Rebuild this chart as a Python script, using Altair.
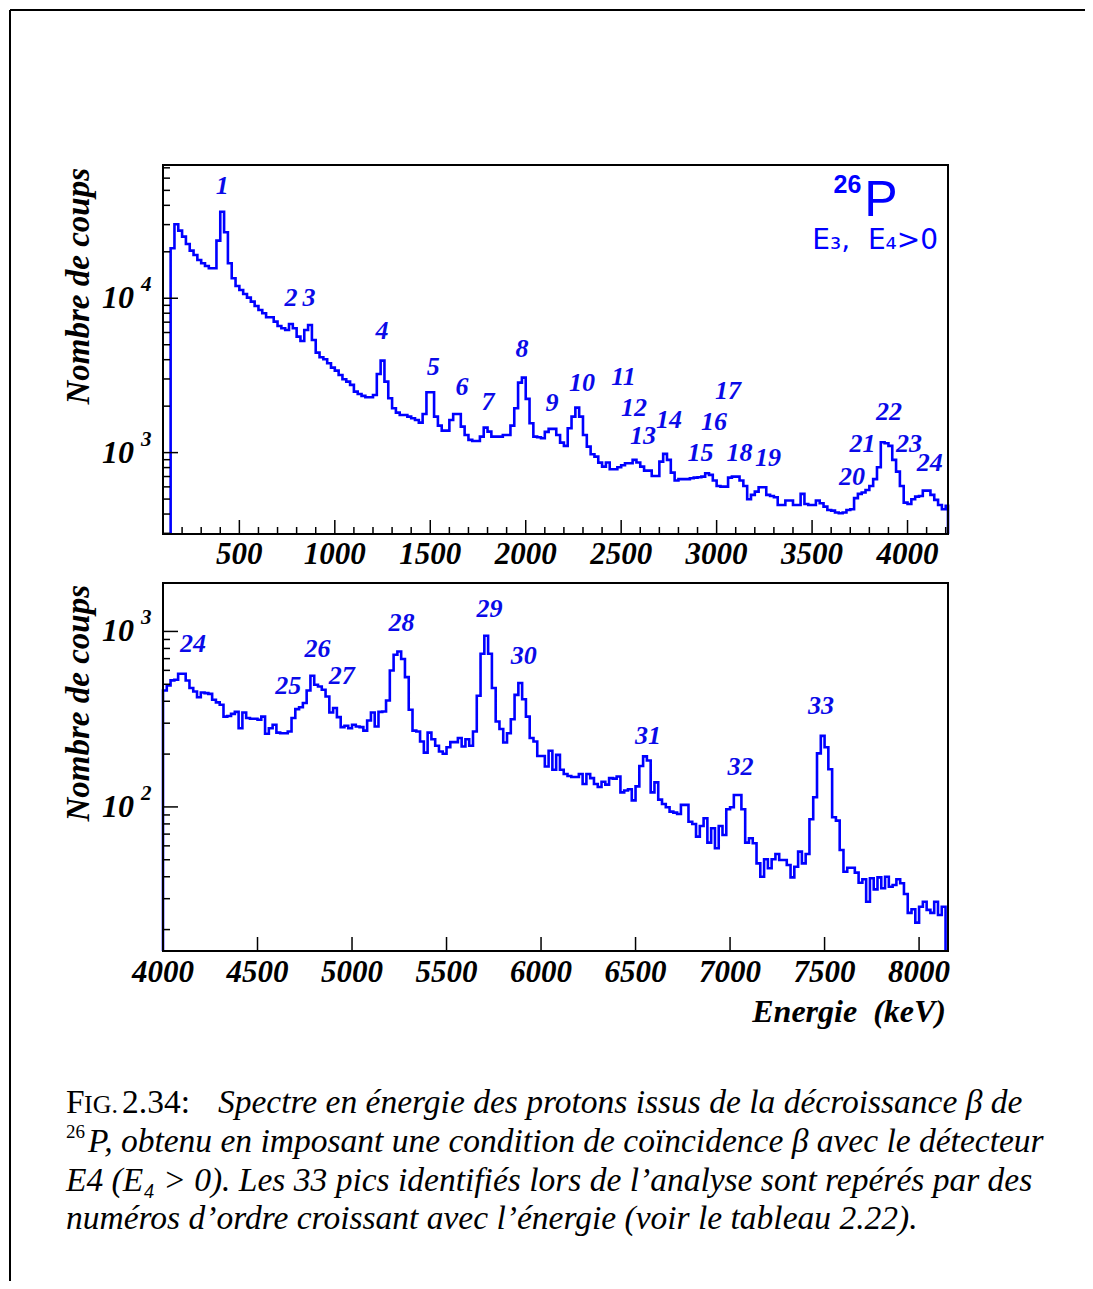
import altair as alt
import pandas as pd

# ---------------- data ----------------
BIN_KEV = 20
TOP_FIRST_BIN_KEV = 140
BOT_FIRST_BIN_KEV = 4000

# counts per 20 keV bin, upper panel (140 keV ... 4220 keV)
top_counts = [
    21080, 30160, 27410, 25060, 22470, 20340, 19070, 17700, 16850, 16190,
    15640, 15640, 23610, 36380, 26760, 16850, 13470, 12020, 11320, 10660,
    10090, 9506, 8916, 8399, 7995, 7530, 7530, 7056, 6615, 6393,
    6233, 6817, 6393, 5640, 5290, 6233, 6715, 5370, 4443, 4148,
    4026, 3793, 3552, 3397, 3186, 2988, 2883, 2745, 2484, 2400,
    2330, 2285, 2285, 2364, 3234, 3943, 2883, 2251, 1939, 1816,
    1754, 1754, 1710, 1670, 1628, 1564, 1780, 2461, 2461, 1710,
    1496, 1388, 1388, 1628, 1780, 1780, 1474, 1302, 1209, 1190,
    1190, 1270, 1452, 1368, 1270, 1270, 1270, 1302, 1302, 1496,
    1939, 2840, 3060, 2228, 1550, 1270, 1259, 1240, 1362, 1424,
    1424, 1302, 1161, 1105, 1439, 1710, 1956, 1710, 1302, 1094,
    976, 942, 861, 811, 862, 781, 781, 804, 829, 854,
    854, 897, 862, 811, 764, 764, 706, 706, 874, 981,
    897, 742, 659, 673, 673, 673, 683, 689, 693, 699,
    735, 717, 659, 608, 602, 602, 689, 699, 699, 659,
    608, 499, 532, 559, 597, 597, 532, 524, 514, 458,
    458, 489, 489, 458, 458, 540, 465, 458, 458, 489,
    470, 447, 425, 421, 409, 405, 409, 425, 430, 507,
    540, 551, 573, 608, 673, 804, 1168, 1151, 1105, 897,
    753, 608, 474, 465, 499, 519, 524, 567, 567, 532,
    494, 458, 430, 452,
]

# counts per 20 keV bin, lower panel (4000 keV ... 8140 keV)
bot_counts = [
    461, 492, 526, 530, 574, 574, 525, 476, 455, 422,
    449, 445, 441, 408, 394, 382, 327, 330, 339, 348,
    281, 345, 321, 318, 318, 314, 327, 261, 281, 294,
    265, 263, 263, 269, 321, 361, 370, 391, 461, 559,
    497, 486, 465, 426, 345, 366, 325, 285, 290, 281,
    294, 287, 285, 272, 311, 345, 287, 348, 350, 404,
    599, 737, 769, 696, 549, 358, 272, 269, 236, 204,
    265, 243, 223, 207, 201, 219, 234, 234, 247, 221,
    243, 223, 269, 430, 746, 945, 746, 476, 307, 278,
    233, 263, 316, 435, 508, 411, 327, 247, 236, 195,
    195, 170, 209, 163, 198, 163, 154, 150, 148, 148,
    154, 135, 154, 146, 135, 130, 139, 134, 146, 145,
    149, 121, 124, 126, 109, 131, 171, 194, 184, 121,
    138, 110, 104, 99.6, 94, 92.8, 91.2, 102.7, 102.7, 82.4,
    80, 67.7, 77.9, 86.2, 62.6, 75.6, 58.1, 77.9, 69.2, 97,
    99.6, 117, 117, 97, 62.6, 66.3, 62.1, 47.7, 40, 50.3,
    44.7, 50.3, 53.9, 49.8, 49.8, 46.7, 39.7, 45.6, 55.6, 47.7,
    53.9, 85.1, 113.6, 202, 254, 219, 164, 87.3, 83.5, 56.8,
    42.7, 45, 45, 42.2, 37, 38.7, 28.8, 39.2, 33.9, 39.7,
    34.4, 40, 35.1, 35.9, 38.7, 36.7, 31.9, 24.9, 26.1, 21.9,
    27, 28.8, 25.9, 24.9, 28.8, 24.2, 27,
]

top_peak_ids = ["1", "2", "3", "4", "5", "6", "7", "8", "9", "10", "11", "12",
                "13", "14", "15", "16", "17", "18", "19", "20", "21", "22", "23", "24"]
top_peak_kev = [410, 771, 865, 1247, 1515, 1666, 1803, 1981, 2138, 2295, 2512, 2567,
                2614, 2751, 2916, 2986, 3060, 3120, 3269, 3709, 3764, 3903, 4008, 4117]
top_peak_cts = [53400, 10000, 10000, 6140, 3590, 2660, 2130, 4700, 2100, 2830, 3090, 1960,
                1280, 1630, 1000, 1580, 2510, 1000, 917, 696, 1139, 1835, 1139, 851]

bot_peak_ids = ["24", "25", "26", "27", "28", "29", "30", "31", "32", "33"]
bot_peak_kev = [4159, 4662, 4818, 4946, 5262, 5727, 5908, 6566, 7055, 7481]
bot_peak_cts = [851, 491, 797, 559, 1121, 1342, 724, 255, 168, 377]

top_x_domain = [100, 4212]
top_y_domain = [297, 73000]
bot_x_domain = [4000, 8153]
bot_y_domain = [15.1, 1888]

top_x_major = [500, 1000, 1500, 2000, 2500, 3000, 3500, 4000]
top_x_minor = [v for v in range(200, 4201, 100) if v % 500 != 0]
bot_x_major = [4500, 5000, 5500, 6000, 6500, 7000, 7500, 8000]
bot_x_labels = [4000, 4500, 5000, 5500, 6000, 6500, 7000, 7500, 8000]
top_y_major = [1000, 10000]
top_y_minor = [300, 400, 500, 600, 700, 800, 900,
               2000, 3000, 4000, 5000, 6000, 7000, 8000, 9000,
               20000, 30000, 40000, 50000, 60000, 70000]
bot_y_major = [100, 1000]
bot_y_minor = [20, 30, 40, 50, 60, 70, 80, 90,
               200, 300, 400, 500, 600, 700, 800, 900]
top_y_exp = ["3", "4"]
bot_y_exp = ["2", "3"]

NB = "\u00a0"
x_title = "Energie" + NB + NB + "(keV)"
caption_l1 = "Spectre en énergie des protons issus de la décroissance β de"
caption_l2 = "P, obtenu en imposant une condition de coïncidence β avec le détecteur"
caption_l3 = "E4 (E₄ > 0). Les 33 pics identifiés lors de l’analyse sont repérés par des"
caption_l4 = "numéros d’ordre croissant avec l’énergie (voir le tableau 2.22)."

# ---------------- layout / style ----------------
W, H = 1077, 1273
TOP_XR = [155, 940]
TOP_YR = [526, 157]
BOT_XR = [155, 940]
BOT_YR = [943, 575]
BLUE = "#0000FF"
LBLUE = "#0a0ae8"
SERIF = "Liberation Serif"
CAP = 33.5

top_xs = alt.Scale(domain=top_x_domain, range=TOP_XR, nice=False, zero=False)
top_ys = alt.Scale(type="log", domain=top_y_domain, range=TOP_YR, nice=False)
bot_xs = alt.Scale(domain=bot_x_domain, range=BOT_XR, nice=False, zero=False)
bot_ys = alt.Scale(type="log", domain=bot_y_domain, range=BOT_YR, nice=False)


def hist_frame(start, counts, ymin, xend):
    e = [start] + [start + BIN_KEV * i for i in range(len(counts))] + [xend]
    c = [ymin] + list(counts) + [ymin]
    return pd.DataFrame({"e": e, "c": c, "idx": list(range(len(e)))})


ONE = pd.DataFrame({"d": [0]})


def hist_layer(df, xs, ys):
    return alt.Chart(df).mark_line(
        interpolate="step-after", color=BLUE, strokeWidth=2.6
    ).encode(
        x=alt.X("e:Q", scale=xs, axis=None),
        y=alt.Y("c:Q", scale=ys, axis=None),
        order=alt.Order("idx:Q"),
    )


def frame(xr, yr):
    return alt.Chart(ONE).mark_rect(fillOpacity=0, stroke="black", strokeWidth=2).encode(
        x=alt.value(xr[0]), x2=alt.value(xr[1]), y=alt.value(yr[1]), y2=alt.value(yr[0])
    )


def xticks(vals, xs, ybottom, length):
    return alt.Chart(pd.DataFrame({"v": vals})).mark_rule(color="black", strokeWidth=1.5).encode(
        x=alt.X("v:Q", scale=xs, axis=None),
        y=alt.value(ybottom), y2=alt.value(ybottom - length),
    )


def yticks(vals, ys, xleft, length):
    return alt.Chart(pd.DataFrame({"v": vals})).mark_rule(color="black", strokeWidth=1.5).encode(
        y=alt.Y("v:Q", scale=ys, axis=None),
        x=alt.value(xleft), x2=alt.value(xleft + length),
    )


def xlabels(vals, xs, ypos):
    return alt.Chart(pd.DataFrame({"v": vals})).mark_text(
        font=SERIF, fontSize=31, fontWeight="bold", fontStyle="italic",
        baseline="middle", align="center", color="black"
    ).encode(
        x=alt.X("v:Q", scale=xs, axis=None), y=alt.value(ypos),
        text=alt.Text("v:Q", format="d"),
    )


def ylabels(vals, exps, ys):
    df = pd.DataFrame({"v": vals, "base": ["10"] * len(vals), "exp": exps})
    base = alt.Chart(df).mark_text(
        font=SERIF, fontSize=32, fontWeight="bold", fontStyle="italic",
        baseline="middle", align="right", color="black"
    ).encode(y=alt.Y("v:Q", scale=ys, axis=None), x=alt.value(126), text="base:N")
    sup = alt.Chart(df).mark_text(
        font=SERIF, fontSize=21, fontWeight="bold", fontStyle="italic",
        baseline="middle", align="left", color="black", dy=-13
    ).encode(y=alt.Y("v:Q", scale=ys, axis=None), x=alt.value(133), text="exp:N")
    return base + sup


def peak_labels(ids, kev, cts, xs, ys):
    df = pd.DataFrame({"id": ids, "e": kev, "c": cts})
    return alt.Chart(df).mark_text(
        font=SERIF, fontSize=26, fontWeight="bold", fontStyle="italic",
        baseline="middle", align="center", color=LBLUE
    ).encode(
        x=alt.X("e:Q", scale=xs, axis=None), y=alt.Y("c:Q", scale=ys, axis=None), text="id:N"
    )


def ytitle(ytop):
    return alt.Chart(pd.DataFrame({"t": ["Nombre de coups"]})).mark_text(
        font=SERIF, fontSize=33, fontWeight="bold", fontStyle="italic",
        angle=270, align="right", baseline="middle", color="black"
    ).encode(x=alt.value(71), y=alt.value(ytop), text="t:N")


def free_text(txt, x, y, size, style="normal", weight="normal", align="left",
              baseline="alphabetic", font=SERIF, color="black"):
    return alt.Chart(pd.DataFrame({"t": [txt]})).mark_text(
        font=font, fontSize=size, fontStyle=style, fontWeight=weight,
        align=align, baseline=baseline, color=color
    ).encode(x=alt.value(x), y=alt.value(y), text="t:N")


def anno(txt, e, c, xs, ys, size, weight="normal", align="center", font="Liberation Sans"):
    df = pd.DataFrame({"t": [txt], "e": [e], "c": [c]})
    return alt.Chart(df).mark_text(
        font=font, fontSize=size, fontWeight=weight, align=align,
        baseline="middle", color=BLUE
    ).encode(x=alt.X("e:Q", scale=xs, axis=None), y=alt.Y("c:Q", scale=ys, axis=None), text="t:N")


top_df = hist_frame(TOP_FIRST_BIN_KEV, top_counts, top_y_domain[0], top_x_domain[1])
bot_df = hist_frame(BOT_FIRST_BIN_KEV, bot_counts, bot_y_domain[0], BOT_FIRST_BIN_KEV + BIN_KEV * len(bot_counts))

layers = [
    # page border lines
    alt.Chart(ONE).mark_rule(color="black", strokeWidth=2).encode(
        x=alt.value(2), x2=alt.value(W), y=alt.value(2)),
    alt.Chart(ONE).mark_rule(color="black", strokeWidth=2).encode(
        x=alt.value(2), y=alt.value(2), y2=alt.value(H)),
    # top panel
    hist_layer(top_df, top_xs, top_ys),
    frame(TOP_XR, TOP_YR),
    xticks(top_x_major, top_xs, TOP_YR[0], 14),
    xticks(top_x_minor, top_xs, TOP_YR[0], 7),
    yticks(top_y_major, top_ys, TOP_XR[0], 15),
    yticks(top_y_minor, top_ys, TOP_XR[0], 7),
    xlabels(top_x_major, top_xs, 547),
    ylabels(top_y_major, top_y_exp, top_ys),
    ytitle(160),
    peak_labels(top_peak_ids, top_peak_kev, top_peak_cts, top_xs, top_ys),
    anno("26", 3685, 54180, top_xs, top_ys, 25, weight="bold"),
    anno("P", 3861, 42670, top_xs, top_ys, 50),
    anno("E₃," + NB + NB + "E₄>0", 4160, 23500, top_xs, top_ys, 28, align="right", font="DejaVu Sans"),
    # bottom panel
    hist_layer(bot_df, bot_xs, bot_ys),
    frame(BOT_XR, BOT_YR),
    xticks(bot_x_major, bot_xs, BOT_YR[0], 14),
    yticks(bot_y_major, bot_ys, BOT_XR[0], 15),
    yticks(bot_y_minor, bot_ys, BOT_XR[0], 7),
    xlabels(bot_x_labels, bot_xs, 965),
    ylabels(bot_y_major, bot_y_exp, bot_ys),
    ytitle(577),
    peak_labels(bot_peak_ids, bot_peak_kev, bot_peak_cts, bot_xs, bot_ys),
    free_text(x_title, 938, 1014, 32, style="italic", weight="bold", align="right"),
    # caption
    free_text("F", 58, 1105, CAP),
    free_text("IG.", 76, 1105, 26),
    free_text("2.34:", 114, 1105, CAP),
    free_text(caption_l1, 210, 1105, CAP, style="italic"),
    free_text("26", 58, 1130, 19),
    free_text(caption_l2, 80, 1144, CAP, style="italic"),
    free_text(caption_l3, 58, 1183, CAP, style="italic"),
    free_text(caption_l4, 58, 1221, CAP, style="italic"),
]

chart = alt.layer(*layers).resolve_scale(x="independent", y="independent").properties(
    width=W, height=H, autosize=alt.AutoSizeParams(type="none"), padding=0
).configure_view(stroke=None)

chart.save("out.html", embed_options={"renderer": "svg", "actions": False})
